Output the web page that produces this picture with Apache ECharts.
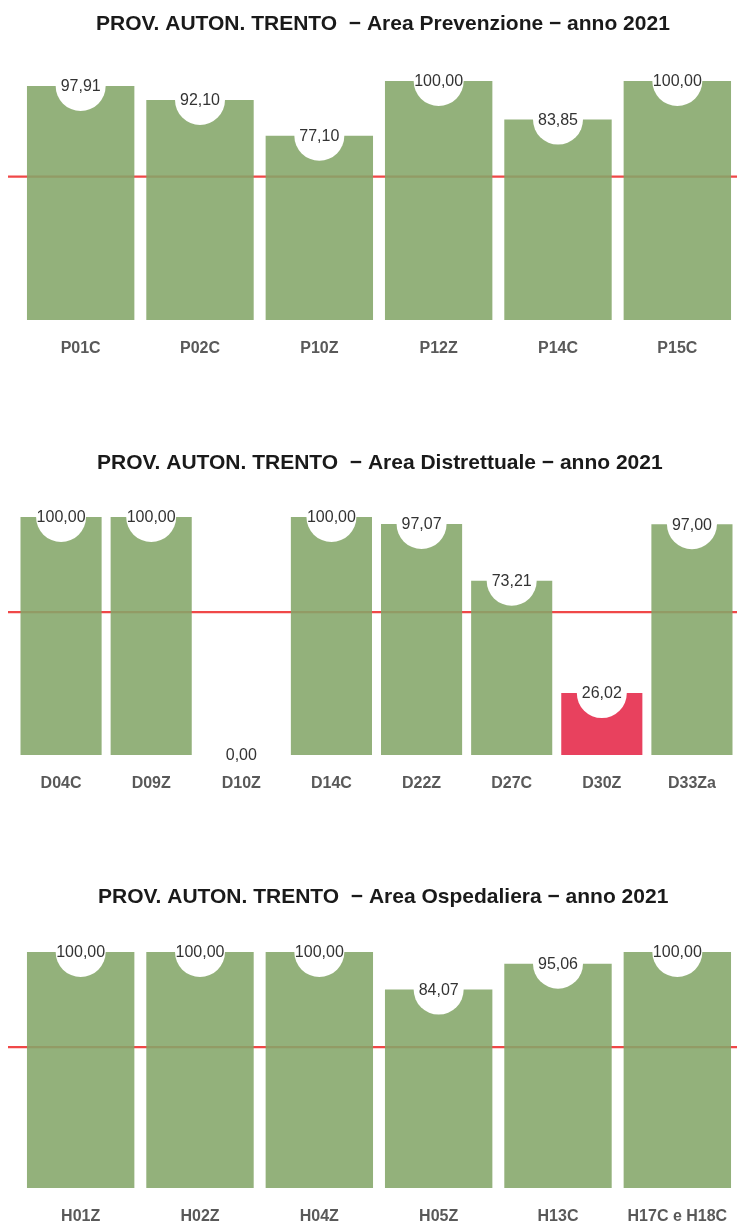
<!DOCTYPE html>
<html>
<head>
<meta charset="utf-8">
<script src="https://cdn.jsdelivr.net/npm/echarts@6/dist/echarts.min.js"></script>
<style>
  html, body { margin: 0; padding: 0; background: #fff; }
  #chart { width: 737px; height: 1225px; }
</style>
</head>
<body>
<div id="chart"></div>
<script>
// soglia di riferimento (linea rossa)
const THRESHOLD = 60

const prevCategories = ['P01C', 'P02C', 'P10Z', 'P12Z', 'P14C', 'P15C']
const prevValues = [97.91, 92.10, 77.10, 100.00, 83.85, 100.00]

const distCategories = ['D04C', 'D09Z', 'D10Z', 'D14C', 'D22Z', 'D27C', 'D30Z', 'D33Za']
const distValues = [100.00, 100.00, 0.00, 100.00, 97.07, 73.21, 26.02, 97.00]

const ospCategories = ['H01Z', 'H02Z', 'H04Z', 'H05Z', 'H13C', 'H17C e H18C']
const ospValues = [100.00, 100.00, 100.00, 84.07, 95.06, 100.00]

const titles = [
  'PROV. AUTON. TRENTO  \u2212 Area Prevenzione \u2212 anno 2021',
  'PROV. AUTON. TRENTO  \u2212 Area Distrettuale \u2212 anno 2021',
  'PROV. AUTON. TRENTO  \u2212 Area Ospedaliera \u2212 anno 2021'
]

// colori pre-compensati per l'opacita' delle barre
const GREEN = '#84a669'
const RED = '#e52748'
const FONT = '"Liberation Sans", Arial, sans-serif'

const panels = [
  { cats: prevCategories, vals: prevValues, titleLeft: 96, titleTop: 14, top: 81, height: 239, left: 21, width: 720 },
  { cats: distCategories, vals: distValues, titleLeft: 97, titleTop: 453, top: 517, height: 238, left: 16, width: 725 },
  { cats: ospCategories, vals: ospValues, titleLeft: 98, titleTop: 887, top: 952, height: 238, left: 21, width: 720 }
]

const fmt = v => v.toFixed(2).replace('.', ',')

const option = {
  animation: false,
  title: [],
  grid: [],
  xAxis: [],
  yAxis: [],
  series: []
}

panels.forEach((p, i) => {
  option.title.push({
    text: titles[i],
    left: p.titleLeft,
    top: p.titleTop,
    padding: 0,
    textStyle: { fontFamily: FONT, fontSize: 21, fontWeight: 'bold', color: '#1a1a1a' }
  })

  // griglia delle barre
  option.grid.push({ left: p.left, width: p.width, top: p.top, height: p.height })
  // griglia della linea di soglia (piu' larga)
  option.grid.push({ left: 8, right: 0, top: p.top, height: p.height })

  const gBar = i * 2
  const gLine = i * 2 + 1

  option.xAxis.push({
    type: 'category',
    gridIndex: gBar,
    data: p.cats,
    z: 10,
    axisLine: { show: false },
    axisTick: { show: false },
    axisLabel: {
      interval: 0,
      margin: 21,
      fontFamily: FONT,
      fontSize: 16,
      fontWeight: 'bold',
      color: '#595959'
    }
  })
  option.xAxis.push({ type: 'value', gridIndex: gLine, min: 0, max: 1, show: false })

  option.yAxis.push({ type: 'value', gridIndex: gBar, min: 0, max: 100, show: false })
  option.yAxis.push({ type: 'value', gridIndex: gLine, min: 0, max: 100, show: false })

  option.series.push({
    type: 'line',
    xAxisIndex: gLine,
    yAxisIndex: gLine,
    data: [[0, THRESHOLD], [1, THRESHOLD]],
    symbol: 'none',
    lineStyle: { color: '#f04848', width: 2.2 },
    silent: true,
    z: 1
  })

  option.series.push({
    type: 'bar',
    xAxisIndex: gBar,
    yAxisIndex: gBar,
    data: p.vals,
    barCategoryGap: '10%',
    itemStyle: {
      opacity: 0.88,
      color: params => (params.value < THRESHOLD ? RED : GREEN)
    },
    z: 2
  })

  option.series.push({
    type: 'scatter',
    xAxisIndex: gBar,
    yAxisIndex: gBar,
    data: p.vals,
    symbol: 'circle',
    symbolSize: 50,
    clip: false,
    itemStyle: { color: '#ffffff', opacity: 1 },
    label: {
      show: true,
      position: 'inside',
      offset: [0, 1],
      formatter: params => fmt(params.value),
      fontFamily: FONT,
      fontSize: 16,
      color: '#333333'
    },
    z: 3
  })
})

const chart = echarts.init(document.getElementById('chart'))
chart.setOption(option)
</script>
</body>
</html>
